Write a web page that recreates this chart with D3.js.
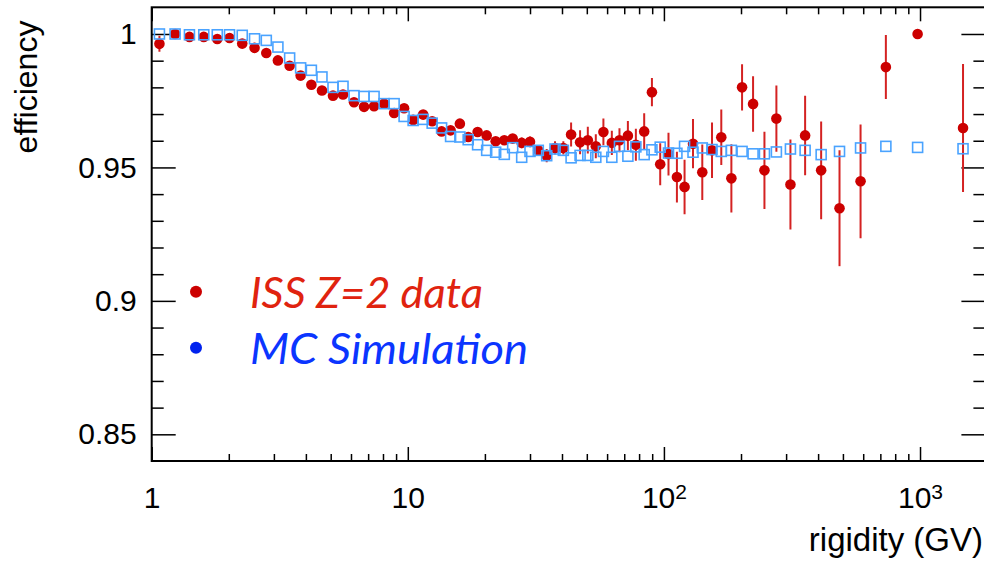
<!DOCTYPE html>
<html>
<head>
<meta charset="utf-8">
<script src="https://cdn.jsdelivr.net/npm/d3@7"></script>
<style>
  body { margin: 0; background: #fff; }
  svg { display: block; }
</style>
</head>
<body>
<svg id="chart" width="984" height="561"></svg>
<script>
// bin centres (GV)
const rigidity = [
  1.072, 1.234, 1.404, 1.597, 1.803, 2.013, 2.257, 2.521, 2.802, 3.110,
  3.456, 3.815, 4.202, 4.622, 5.104, 5.585, 6.166, 6.748, 7.384, 8.079,
  8.842, 9.672, 10.49, 11.48, 12.45, 13.55, 14.69, 15.97, 17.21, 18.73,
  20.32, 22.03, 23.81, 25.67, 27.84, 30.00, 32.32, 34.86, 37.57, 40.49,
  43.41, 47.06, 50.45, 54.21, 58.04, 62.61, 67.06, 72.33, 77.71, 83.75,
  89.78, 96.72, 104.2, 112.4, 120.4, 129.9, 141.2, 154.1, 167.5, 183.4,
  201.9, 222.9, 246.9, 274.9, 311.9, 355.9, 411.1, 484.9, 585.9, 735.6,
  978.6, 1472
];

// ISS Z=2 data
const issEff = [
  0.9963, 1.0000, 0.9989, 0.9989, 0.9981, 0.9985, 0.9964, 0.9948, 0.9929, 0.9901,
  0.9881, 0.9844, 0.9810, 0.9788, 0.9769, 0.9773, 0.9744, 0.9727, 0.9729, 0.9739,
  0.9704, 0.9722, 0.9678, 0.9698, 0.9673, 0.9635, 0.9639, 0.9664, 0.9614, 0.9633,
  0.9620, 0.9598, 0.9602, 0.9608, 0.9592, 0.9596, 0.9564, 0.9544, 0.9573, 0.9573,
  0.9623, 0.9594, 0.9602, 0.9579, 0.9633, 0.9592, 0.9602, 0.9619, 0.9585, 0.9635,
  0.9782, 0.9512, 0.9550, 0.9464, 0.9427, 0.9589, 0.9482, 0.9564, 0.9613, 0.9459,
  0.9800, 0.9738, 0.9489, 0.9683, 0.9436, 0.9620, 0.9489, 0.9347, 0.9448, 0.9876,
  1.0000, 0.9648
];
const issErr = [
  0.003, 0.0005, 0.0005, 0.0005, 0.0005, 0.0005, 0.0005, 0.0005, 0.0005, 0.0005,
  0.0005, 0.0005, 0.0005, 0.0005, 0.0005, 0.0005, 0.0005, 0.0005, 0.0005, 0.0005,
  0.001, 0.001, 0.001, 0.001, 0.001, 0.001, 0.001, 0.001, 0.001, 0.001,
  0.0015, 0.0015, 0.0015, 0.0015, 0.002, 0.002, 0.002, 0.0025, 0.0025, 0.0025,
  0.0045, 0.0045, 0.005, 0.0045, 0.005, 0.0045, 0.0045, 0.0055, 0.006, 0.0068,
  0.0053, 0.0079, 0.008, 0.0095, 0.0102, 0.0092, 0.0104, 0.0104, 0.0104, 0.0128,
  0.0087, 0.0104, 0.0145, 0.0124, 0.0169, 0.0149, 0.0183, 0.0217, 0.0213, 0.012,
  0, 0.024
];

// MC simulation
const mcEff = [
  1.0000, 1.0000, 0.9997, 0.9997, 0.9997, 0.9997, 0.9995, 0.9982, 0.9976, 0.9951,
  0.9910, 0.9873, 0.9864, 0.9839, 0.9800, 0.9804, 0.9769, 0.9766, 0.9766, 0.9739,
  0.9739, 0.9691, 0.9676, 0.9680, 0.9666, 0.9648, 0.9616, 0.9614, 0.9604, 0.9585,
  0.9564, 0.9557, 0.9549, 0.9574, 0.9538, 0.9560, 0.9564, 0.9544, 0.9569, 0.9564,
  0.9536, 0.9545, 0.9545, 0.9538, 0.9560, 0.9538, 0.9579, 0.9542, 0.9577, 0.9548,
  0.9566, 0.9576, 0.9554, 0.9553, 0.9579, 0.9557, 0.9573, 0.9567, 0.9560, 0.9564,
  0.9560, 0.9551, 0.9551, 0.9558, 0.9569, 0.9564, 0.9548, 0.9560, 0.9573, 0.9579,
  0.9575, 0.9570
];

const xMajorTicks = [1, 10, 100, 1000];
const xTickBase = ["1", "10", "10", "10"];
const xTickExp = ["", "", "2", "3"];
const xMinorTicks = [2, 3, 4, 5, 6, 7, 8, 9, 20, 30, 40, 50, 60, 70, 80, 90,
  200, 300, 400, 500, 600, 700, 800, 900];
const yMajorTicks = [0.85, 0.9, 0.95, 1];
const yTickLabels = ["0.85", "0.9", "0.95", "1"];
const yMinorTicks = [0.86, 0.87, 0.88, 0.89, 0.91, 0.92, 0.93, 0.94,
  0.96, 0.97, 0.98, 0.99];

const legendLabels = ["ISS Z=2 data", "MC Simulation"];

const FONT = '"Liberation Sans", Arial, Helvetica, sans-serif';
const LEFT = 151.7, RIGHT = 985.4, TOP = 7.3, BOTTOM = 461;

const svg = d3.select("#chart");

const x = d3.scaleLog().domain([1, 1800]).range([LEFT, RIGHT]);
const y = d3.scaleLinear().domain([0.84, 1.01]).range([BOTTOM, TOP]);

function styleAxis(g) {
  g.select(".domain").remove();
  g.selectAll(".tick line").attr("stroke", "#000").attr("stroke-width", 1.5);
  g.attr("font-family", FONT).attr("font-size", 30);
  g.selectAll(".tick text").attr("fill", "#000");
}

// bottom
svg.append("g")
  .attr("transform", "translate(0," + BOTTOM + ")")
  .call(d3.axisBottom(x).tickValues(xMinorTicks).tickSize(-7).tickSizeOuter(0).tickFormat(""))
  .call(styleAxis);
const gxb = svg.append("g")
  .attr("transform", "translate(0," + BOTTOM + ")")
  .call(d3.axisBottom(x).tickValues(xMajorTicks).tickSize(-14).tickSizeOuter(0)
    .tickPadding(26).tickFormat((d, i) => xTickBase[i]))
  .call(styleAxis);
gxb.selectAll(".tick text").each(function(d, i) {
  if (xTickExp[i]) {
    d3.select(this).append("tspan")
      .attr("dy", "-0.42em")
      .attr("font-size", 21)
      .text(xTickExp[i]);
  }
});

// top
svg.append("g")
  .attr("transform", "translate(0," + TOP + ")")
  .call(d3.axisTop(x).tickValues(xMinorTicks).tickSize(-7).tickSizeOuter(0).tickFormat(""))
  .call(styleAxis);
svg.append("g")
  .attr("transform", "translate(0," + TOP + ")")
  .call(d3.axisTop(x).tickValues(xMajorTicks).tickSize(-14).tickSizeOuter(0).tickFormat(""))
  .call(styleAxis);

// left
svg.append("g")
  .attr("transform", "translate(" + LEFT + ",0)")
  .call(d3.axisLeft(y).tickValues(yMinorTicks).tickSize(-12).tickSizeOuter(0).tickFormat(""))
  .call(styleAxis);
svg.append("g")
  .attr("transform", "translate(" + LEFT + ",0)")
  .call(d3.axisLeft(y).tickValues(yMajorTicks).tickSize(-24).tickSizeOuter(0)
    .tickPadding(15).tickFormat((d, i) => yTickLabels[i]))
  .call(styleAxis);

// right
svg.append("g")
  .attr("transform", "translate(" + RIGHT + ",0)")
  .call(d3.axisRight(y).tickValues(yMinorTicks).tickSize(-12).tickSizeOuter(0).tickFormat(""))
  .call(styleAxis);
svg.append("g")
  .attr("transform", "translate(" + RIGHT + ",0)")
  .call(d3.axisRight(y).tickValues(yMajorTicks).tickSize(-24).tickSizeOuter(0).tickFormat(""))
  .call(styleAxis);

// frame
svg.append("rect")
  .attr("x", LEFT)
  .attr("y", TOP)
  .attr("width", RIGHT - LEFT)
  .attr("height", BOTTOM - TOP)
  .attr("fill", "none")
  .attr("stroke", "#000")
  .attr("stroke-width", 2);

// axis titles
svg.append("text")
  .attr("transform", "translate(37,87) rotate(-90)")
  .attr("text-anchor", "middle")
  .attr("font-family", FONT)
  .attr("font-size", 32)
  .text("efficiency");
svg.append("text")
  .attr("x", 983)
  .attr("y", 551)
  .attr("text-anchor", "end")
  .attr("font-family", FONT)
  .attr("font-size", 33)
  .text("rigidity (GV)");

// data
const points = rigidity.map((r, i) => ({ r: r, iss: issEff[i], err: issErr[i], mc: mcEff[i] }));

svg.append("clipPath").attr("id", "frame-clip")
  .append("rect")
  .attr("x", LEFT).attr("y", TOP)
  .attr("width", RIGHT - LEFT).attr("height", BOTTOM - TOP);

const plot = svg.append("g").attr("clip-path", "url(#frame-clip)");

plot.selectAll("line.err")
  .data(points.filter(d => d.err > 0))
  .enter().append("line")
  .attr("class", "err")
  .attr("x1", d => x(d.r))
  .attr("x2", d => x(d.r))
  .attr("y1", d => y(d.iss - d.err))
  .attr("y2", d => y(d.iss + d.err))
  .attr("stroke", "#d42222")
  .attr("stroke-width", 2);

plot.selectAll("circle.iss")
  .data(points)
  .enter().append("circle")
  .attr("class", "iss")
  .attr("cx", d => x(d.r))
  .attr("cy", d => y(d.iss))
  .attr("r", 5.3)
  .attr("fill", "#cc0000");

plot.selectAll("rect.mc")
  .data(points)
  .enter().append("rect")
  .attr("class", "mc")
  .attr("x", d => x(d.r) - 5)
  .attr("y", d => y(d.mc) - 5)
  .attr("width", 10)
  .attr("height", 10)
  .attr("fill", "none")
  .attr("stroke", "#4aa3ff")
  .attr("stroke-width", 1.6);

// legend
const legendDot = ["#cc0000", "#0022ee"];
const legendText = ["#e0230f", "#0b35ff"];
const legendWidth = [233, 278];
legendLabels.forEach((label, i) => {
  const cy = 291.7 + i * 56;
  svg.append("circle")
    .attr("cx", 196)
    .attr("cy", cy)
    .attr("r", 6)
    .attr("fill", legendDot[i]);
  svg.append("text")
    .attr("x", 250)
    .attr("y", cy + 16.5)
    .attr("font-family", "Lato, 'Open Sans', sans-serif")
    .attr("font-style", "italic")
    .attr("font-size", 42)
    .attr("textLength", legendWidth[i])
    .attr("lengthAdjust", "spacingAndGlyphs")
    .attr("fill", legendText[i])
    .text(label);
});
</script>
</body>
</html>
